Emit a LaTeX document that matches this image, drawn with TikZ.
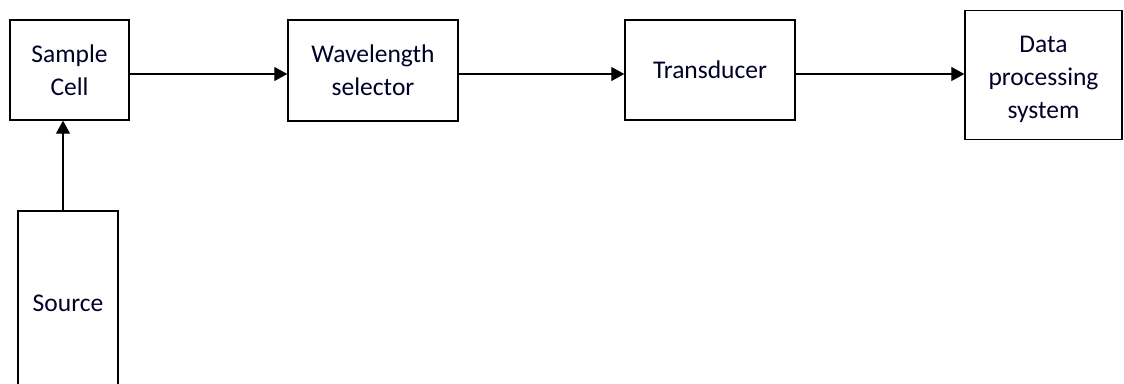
\documentclass[tikz,border=0pt]{standalone}
\usepackage{fontspec}
\setmainfont{Carlito}
\usetikzlibrary{arrows.meta}
\begin{document}
\begin{tikzpicture}[x=1pt,y=-1pt,
  blk/.style={draw, line width=1.4pt, rectangle, inner sep=0pt, align=center,
    font=\fontsize{25.5}{33}\selectfont, text=black!85!blue},
  txt/.style={inner sep=0pt, align=center, font=\fontsize{25.5}{33}\selectfont, text=black!85!blue},
  arr/.style={line width=1.1pt, -{Triangle[length=13pt,width=14pt]}}]
\useasboundingbox (0,0) rectangle (1124,383);
\clip (0,0) rectangle (1124,383);
\node[blk, minimum width=119pt, minimum height=100pt] (cell) at (69.5,70) {Sample\\Cell};
\node[blk, minimum width=170pt, minimum height=101pt] (wl) at (373,70.5) {Wavelength\\selector};
\node[blk, minimum width=170pt, minimum height=100pt] (tr) at (710,70) {Transducer};
\node[blk, minimum width=157pt, minimum height=129pt] (dp) at (1043.5,75) {};
\node[txt] (dpt) at ([yshift=-4pt]dp.center) {Data\\processing\\system};
\node[blk, minimum width=100pt, minimum height=184pt] (src) at (68,303) {Source};
\draw[arr] ([xshift=-5pt]src.north) -- ([xshift=-6.5pt]cell.south);
\draw[arr] ([yshift=-4pt]cell.east) coordinate (c1) -- (c1 -| wl.west);
\draw[arr] ([yshift=-3.5pt]wl.east) coordinate (w1) -- (w1 -| tr.west);
\draw[arr] ([yshift=-4pt]tr.east) coordinate (t1) -- (t1 -| dp.west);
\end{tikzpicture}
\end{document}
